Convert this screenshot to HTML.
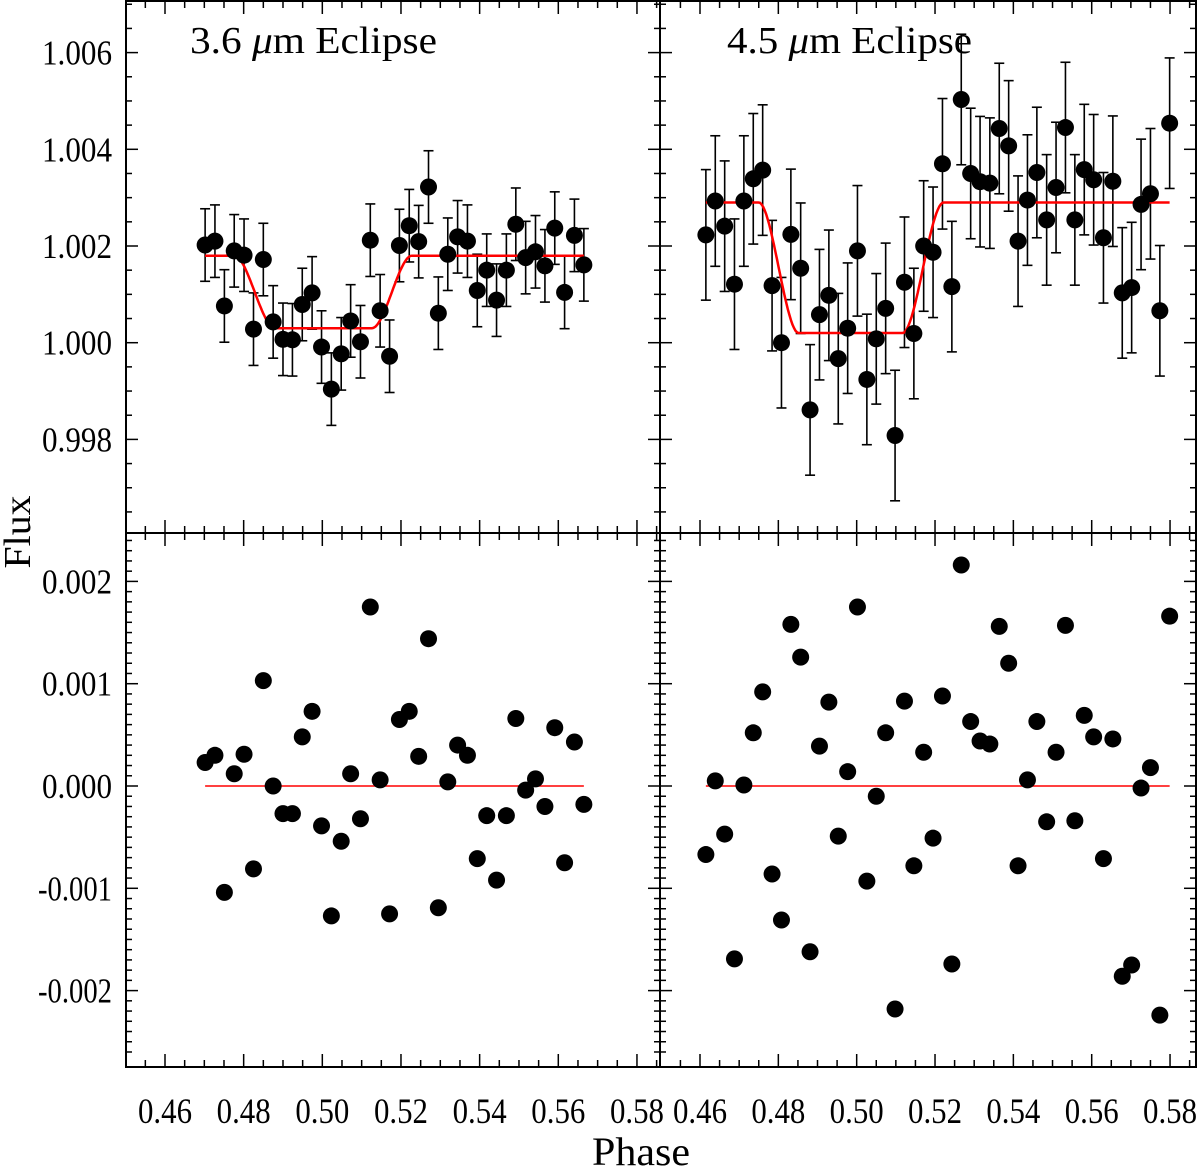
<!DOCTYPE html>
<html><head><meta charset="utf-8"><style>
html,body{margin:0;padding:0;background:#fff;}
svg{display:block;font-family:"Liberation Serif",serif;}
</style></head><body>
<svg id="chart" width="1200" height="1169" viewBox="0 0 1200 1169" xmlns="http://www.w3.org/2000/svg">
<g id="plot"></g>
<text x="30" y="532" font-size="38" text-anchor="middle" textLength="73" lengthAdjust="spacingAndGlyphs" transform="rotate(-90 30 532)">Flux</text>
<text x="641" y="1165" font-size="40" text-anchor="middle" textLength="98" lengthAdjust="spacingAndGlyphs">Phase</text>
<text x="190" y="53" font-size="38" textLength="247" lengthAdjust="spacingAndGlyphs">3.6 <tspan font-style="italic">μ</tspan>m Eclipse</text>
<text x="727" y="53" font-size="38" textLength="245" lengthAdjust="spacingAndGlyphs">4.5 <tspan font-style="italic">μ</tspan>m Eclipse</text>
</svg>
<script>
// ---- data ----
const phase36 = [0.4702,0.4727,0.4751,0.4776,0.4801,0.4825,0.4850,0.4875,0.4900,0.4924,0.4949,0.4974,0.4998,0.5023,0.5048,0.5072,0.5097,0.5122,0.5147,0.5171,0.5196,0.5221,0.5245,0.5270,0.5295,0.5319,0.5344,0.5369,0.5394,0.5418,0.5443,0.5468,0.5492,0.5517,0.5542,0.5566,0.5591,0.5616,0.5641,0.5665];
const flux36 = [1.00202,1.00210,1.00076,1.00190,1.00181,1.00028,1.00172,1.00043,1.00007,1.00006,1.00079,1.00103,0.99991,0.99904,0.99977,1.00045,1.00002,1.00212,1.00066,0.99972,1.00201,1.00242,1.00209,1.00322,1.00061,1.00183,1.00219,1.00210,1.00108,1.00150,1.00088,1.00150,1.00245,1.00176,1.00188,1.00159,1.00237,1.00104,1.00222,1.00161];
const err36 = 0.00075;
const resid36 = [0.00023,0.00030,-0.00104,0.00012,0.00031,-0.00081,0.00103,0.00000,-0.00027,-0.00027,0.00048,0.00073,-0.00039,-0.00127,-0.00054,0.00012,-0.00032,0.00175,0.00006,-0.00125,0.00065,0.00073,0.00029,0.00144,-0.00119,0.00004,0.00040,0.00030,-0.00071,-0.00029,-0.00092,-0.00029,0.00066,-0.00004,0.00007,-0.00020,0.00057,-0.00075,0.00043,-0.00018];
const model36 = {base:1.0018, bottom:1.0003, t1:0.4776, t2:0.4880, t3:0.5126, t4:0.5228};

const phase45 = [0.4615,0.4639,0.4663,0.4688,0.4712,0.4736,0.4760,0.4784,0.4808,0.4832,0.4857,0.4881,0.4905,0.4929,0.4953,0.4977,0.5002,0.5026,0.5050,0.5074,0.5098,0.5122,0.5146,0.5171,0.5195,0.5219,0.5243,0.5267,0.5291,0.5315,0.5340,0.5364,0.5388,0.5412,0.5436,0.5460,0.5485,0.5509,0.5533,0.5557,0.5581,0.5605,0.5630,0.5654,0.5678,0.5702,0.5726,0.5750,0.5774,0.5799];
const flux45 = [1.00223,1.00293,1.00241,1.00121,1.00293,1.00339,1.00357,1.00118,1.00000,1.00224,1.00154,0.99861,1.00058,1.00098,0.99967,1.00030,1.00190,0.99924,1.00008,1.00071,0.99808,1.00125,1.00019,1.00200,1.00187,1.00370,1.00116,1.00503,1.00350,1.00333,1.00330,1.00443,1.00407,1.00210,1.00295,1.00352,1.00254,1.00321,1.00445,1.00254,1.00358,1.00337,1.00217,1.00334,1.00103,1.00114,1.00286,1.00308,1.00066,1.00454];
const err45 = 0.00135;
const resid45 = [-0.00067,0.00005,-0.00047,-0.00169,0.00001,0.00052,0.00092,-0.00086,-0.00131,0.00158,0.00126,-0.00162,0.00039,0.00082,-0.00049,0.00014,0.00175,-0.00093,-0.00010,0.00052,-0.00218,0.00083,-0.00078,0.00033,-0.00051,0.00088,-0.00174,0.00216,0.00063,0.00044,0.00041,0.00156,0.00120,-0.00078,0.00006,0.00063,-0.00035,0.00033,0.00157,-0.00034,0.00069,0.00048,-0.00071,0.00046,-0.00186,-0.00175,-0.00002,0.00018,-0.00224,0.00166];
const model45 = {base:1.0029, bottom:1.0002, t1:0.4750, t2:0.4852, t3:0.5117, t4:0.5222};

const xTicks = [0.46,0.48,0.50,0.52,0.54,0.56,0.58];
const xTickLabels = ["0.46","0.48","0.50","0.52","0.54","0.56","0.58"];
const yTopTicks = [0.998,1.000,1.002,1.004,1.006];
const yTopLabels = ["0.998","1.000","1.002","1.004","1.006"];
const yBotTicks = [-0.002,-0.001,0.000,0.001,0.002];
const yBotLabels = ["-0.002","-0.001","0.000","0.001","0.002"];

// ---- layout ----
const NS="http://www.w3.org/2000/svg";
const plot=document.getElementById('plot');
const X0=0.46, PXU=3933;
const leftX=v=>165+(v-X0)*PXU;
const rightX=v=>700+(v-X0)*3917;
const topY=v=>342.7-(v-1)*48350;
const botY=v=>786-v*102300;
const panels={
 tl:{x0:126,x1:660,y0:1,y1:533,sx:leftX,sy:topY},
 tr:{x0:660,x1:1196,y0:1,y1:533,sx:rightX,sy:topY},
 bl:{x0:126,x1:660,y0:533,y1:1067,sx:leftX,sy:botY},
 br:{x0:660,x1:1196,y0:533,y1:1067,sx:rightX,sy:botY}
};
function mk(tag,attrs,parent){const e=document.createElementNS(NS,tag);for(const k in attrs)e.setAttribute(k,attrs[k]);(parent||plot).appendChild(e);return e;}

function drawFrame(key){
 const p=panels[key];
 const g=mk('g',{});
 
 
 const r=mk('rect',{x:p.x0,y:p.y0,width:p.x1-p.x0,height:p.y1-p.y0,fill:'none',stroke:'#000','stroke-width':2},g);
 
 
 for(let i=0;i<=28;i++){
  const v=0.45+i*0.005; const x=p.sx(v); if(x<p.x0+1||x>p.x1-1)continue;
  const major=(i%4===2); const L=major?13:7;
  mk('line',{x1:x,x2:x,y1:p.y1,y2:p.y1-L,stroke:'#000','stroke-width':1.5},g);
  mk('line',{x1:x,x2:x,y1:p.y0,y2:p.y0+L,stroke:'#000','stroke-width':1.5},g);
 }
 const top=(key[0]==='t');
 const step=top?0.0005:0.0001, start=top?0.9960:-0.0026, n=top?24:52;
 for(let i=0;i<=n;i++){
  const v=start+i*step; const y=p.sy(v); if(y<p.y0+1||y>p.y1-1)continue;
  const major= top? (Math.abs(Math.round(v*500)-v*500)<1e-6) : (Math.abs(Math.round(v*1000)-v*1000)<1e-6);
  const L=major?12:6;
  mk('line',{x1:p.x0,x2:p.x0+L,y1:y,y2:y,stroke:'#000','stroke-width':1.5},g);
  mk('line',{x1:p.x1,x2:p.x1-L,y1:y,y2:y,stroke:'#000','stroke-width':1.5},g);
 }
}
['tl','tr','bl','br'].forEach(drawFrame);

function yLabel(y,txt){
 const w = txt.length>=6?74:70;
 const t=mk('text',{x:112-w,y:y+12,'font-size':35,textLength:w,lengthAdjust:'spacingAndGlyphs'});
 t.textContent=txt;
 return t;
}
yTopTicks.forEach((v,i)=>{const t=yLabel(topY(v),yTopLabels[i]);
 
 });
yBotTicks.forEach((v,i)=>{const t=yLabel(botY(v),yBotLabels[i]);
 
 });
xTicks.forEach((v,i)=>{
 [leftX,rightX].forEach(f=>{const t=mk('text',{x:f(v)-27,y:1123,'font-size':36,textLength:54,lengthAdjust:'spacingAndGlyphs'});t.textContent=xTickLabels[i];
 
 });
});

function modelVal(m,ph){
 const ease=s=>s*s*(3-2*s);
 if(ph<=m.t1||ph>=m.t4)return m.base;
 if(ph<m.t2)return m.base-(m.base-m.bottom)*ease((ph-m.t1)/(m.t2-m.t1));
 if(ph<=m.t3)return m.bottom;
 return m.bottom+(m.base-m.bottom)*ease((ph-m.t3)/(m.t4-m.t3));
}
function drawTop(key,ph,fl,err,m){
 const p=panels[key];
 const g=mk('g',{});
 
 
 ph.forEach((x,i)=>{
  const cx=p.sx(x),ya=p.sy(fl[i]+err),yb=p.sy(fl[i]-err);
  mk('line',{x1:cx,x2:cx,y1:ya,y2:yb,stroke:'#000','stroke-width':1.6},g);
  mk('line',{x1:cx-5,x2:cx+5,y1:ya,y2:ya,stroke:'#000','stroke-width':1.6},g);
  mk('line',{x1:cx-5,x2:cx+5,y1:yb,y2:yb,stroke:'#000','stroke-width':1.6},g);
 });
 let d='';
 const a=ph[0],b=ph[ph.length-1];
 for(let k=0;k<=300;k++){const x=a+(b-a)*k/300;d+=(k?'L':'M')+p.sx(x).toFixed(1)+','+p.sy(modelVal(m,x)).toFixed(1);}
 const path=mk('path',{d:d,fill:'none',stroke:'#ff0000','stroke-width':2.5},g);
 
 
 ph.forEach((x,i)=>{
  const c=mk('circle',{cx:p.sx(x),cy:p.sy(fl[i]),r:8.5,fill:'#000'},g);
  
  
 });
}
function drawBot(key,ph,res){
 const p=panels[key];
 const g=mk('g',{});
 
 
 const l=mk('line',{x1:p.sx(ph[0]),x2:p.sx(ph[ph.length-1]),y1:p.sy(0),y2:p.sy(0),stroke:'#ff0000','stroke-width':1.6},g);
 
 
 ph.forEach((x,i)=>{
  const c=mk('circle',{cx:p.sx(x),cy:p.sy(res[i]),r:8.5,fill:'#000'},g);
  
  
 });
}
drawTop('tl',phase36,flux36,err36,model36);
drawTop('tr',phase45,flux45,err45,model45);
drawBot('bl',phase36,resid36);
drawBot('br',phase45,resid45);
</script>
</body></html>
